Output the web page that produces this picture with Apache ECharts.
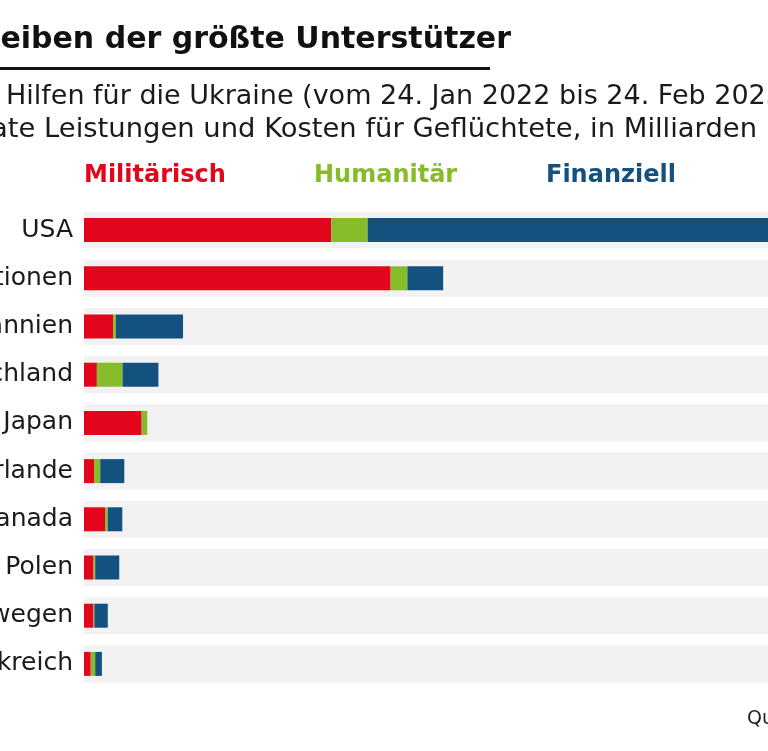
<!DOCTYPE html>
<html>
<head>
<meta charset="utf-8">
<script src="https://cdn.jsdelivr.net/npm/echarts@6/dist/echarts.min.js"></script>
<style>
html,body{margin:0;padding:0;background:#fff;}
#c{width:768px;height:751px;}
</style>
</head>
<body>
<div id="c"></div>
<script>
const categories = ['USA','EU-Institutionen','Großbritannien','Deutschland','Japan','Niederlande','Kanada','Polen','Norwegen','Frankreich'];
const militaer   = [44.2, 54.8, 5.2, 2.3, 10.3, 1.8, 3.75, 1.7, 1.7, 1.2];
const humanitaer = [6.5, 3.0, 0.5, 4.6, 1.0, 1.1, 0.5, 0.3, 0.15, 0.8];
const finanziell = [75.0, 6.4, 12.0, 6.4, 0, 4.3, 2.6, 4.3, 2.4, 1.2];
const axisMax = 158;
const background = categories.map(() => axisMax);

const LIGHT = "'DejaVu Sans', sans-serif";
const RED = '#e3051b', GREEN = '#86bb2a', BLUE = '#13527f';

const chart = echarts.init(document.getElementById('c'), null, {renderer: 'canvas'});
chart.setOption({
  animation: false,
  backgroundColor: '#ffffff',
  grid: {left: 84, right: -200, top: 206, height: 482, containLabel: false, outerBoundsMode: 'none'},
  xAxis: {type: 'value', min: 0, max: axisMax, show: false},
  yAxis: [
    {type: 'category', inverse: true, data: categories,
     axisLine: {show: false}, axisTick: {show: false}, splitLine: {show: false},
     axisLabel: {fontFamily: LIGHT, fontSize: 25, color: '#1a1a1a', margin: 11}},
    {type: 'category', inverse: true, data: categories, show: false}
  ],
  series: [
    {name: 'bg', type: 'bar', yAxisIndex: 1, data: background, barWidth: 37,
     itemStyle: {color: '#f2f2f2'}, silent: true, z: 1},
    {name: 'Militärisch', type: 'bar', stack: 't', data: militaer, barWidth: 24,
     itemStyle: {color: RED}, z: 3},
    {name: 'Humanitär', type: 'bar', stack: 't', data: humanitaer, barWidth: 24,
     itemStyle: {color: GREEN}, z: 3},
    {name: 'Finanziell', type: 'bar', stack: 't', data: finanziell, barWidth: 24,
     itemStyle: {color: BLUE}, z: 3}
  ],
  graphic: [
    {type: 'text', x: 511, y: 40, style: {text: 'USA bleiben der größte Unterstützer',
      font: "bold 30px 'DejaVu Sans'", fill: '#111', textAlign: 'right', textVerticalAlign: 'middle'}},
    {type: 'rect', shape: {x: 0, y: 67, width: 490, height: 3}, style: {fill: '#111'}},
    {type: 'text', x: 6, y: 97, style: {text: 'Hilfen für die Ukraine (vom 24. Jan 2022 bis 24. Feb 2023,',
      font: "27px " + LIGHT, fill: '#1a1a1a', textAlign: 'left', textVerticalAlign: 'middle'}},
    {type: 'text', x: 757, y: 130, style: {text: 'ohne private Leistungen und Kosten für Geflüchtete, in Milliarden',
      font: "27.4px " + LIGHT, fill: '#1a1a1a', textAlign: 'right', textVerticalAlign: 'middle'}},
    {type: 'text', x: 84, y: 176, style: {text: 'Militärisch',
      font: "bold 24px 'DejaVu Sans'", fill: RED, textAlign: 'left', textVerticalAlign: 'middle'}},
    {type: 'text', x: 314, y: 176, style: {text: 'Humanitär',
      font: "bold 24px 'DejaVu Sans'", fill: GREEN, textAlign: 'left', textVerticalAlign: 'middle'}},
    {type: 'text', x: 546, y: 176, style: {text: 'Finanziell',
      font: "bold 24px 'DejaVu Sans'", fill: BLUE, textAlign: 'left', textVerticalAlign: 'middle'}},
    {type: 'text', x: 747, y: 719, style: {text: 'Quelle: IfW Kiel',
      font: "19px " + LIGHT, fill: '#222', textAlign: 'left', textVerticalAlign: 'middle'}}
  ]
});
</script>
</body>
</html>
